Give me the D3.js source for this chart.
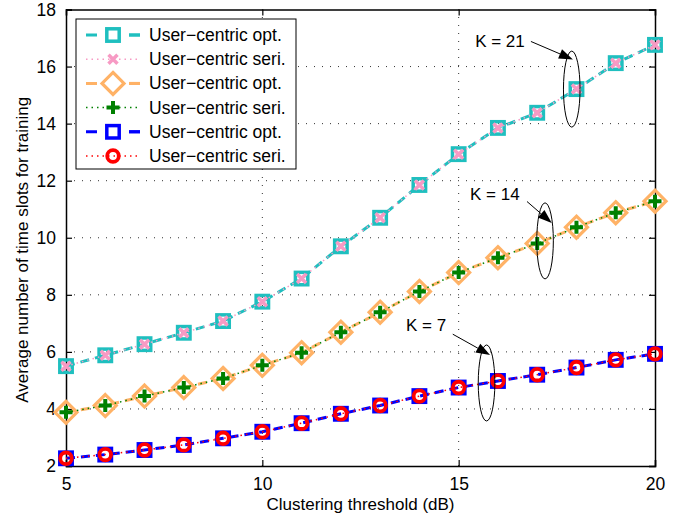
<!DOCTYPE html>
<html>
<head>
<meta charset="utf-8">
<script src="https://cdn.jsdelivr.net/npm/d3@7"></script>
<style>
  body { margin: 0; background: #fff; }
  text { font-family: "Liberation Sans", Arial, sans-serif; fill: #000; }
</style>
</head>
<body>
<script>
let thresholds = [5, 6, 7, 8, 9, 10, 11, 12, 13, 14, 15, 16, 17, 18, 19, 20]
let optK21 = [5.5, 5.88, 6.27, 6.67, 7.08, 7.76, 8.57, 9.7, 10.7, 11.85, 12.93, 13.85, 14.38, 15.21, 16.12, 16.76]
let seriK21 = [5.5, 5.88, 6.27, 6.67, 7.08, 7.76, 8.57, 9.7, 10.7, 11.85, 12.93, 13.85, 14.38, 15.21, 16.12, 16.76]
let optK14 = [3.88, 4.12, 4.45, 4.75, 5.07, 5.53, 5.97, 6.69, 7.39, 8.12, 8.78, 9.3, 9.8, 10.37, 10.88, 11.28]
let seriK14 = [3.88, 4.12, 4.45, 4.75, 5.07, 5.53, 5.97, 6.69, 7.39, 8.12, 8.78, 9.3, 9.8, 10.37, 10.88, 11.28]
let optK7 = [2.27, 2.4, 2.56, 2.74, 2.97, 3.2, 3.5, 3.83, 4.12, 4.45, 4.75, 4.98, 5.2, 5.45, 5.72, 5.93]
let seriK7 = [2.27, 2.4, 2.56, 2.74, 2.97, 3.2, 3.5, 3.83, 4.12, 4.45, 4.75, 4.98, 5.2, 5.45, 5.72, 5.93]
let xTicks = [5, 10, 15, 20]
let yTicks = [2, 4, 6, 8, 10, 12, 14, 16, 18]
let legendLabels = ['User\u2212centric opt.', 'User\u2212centric seri.', 'User\u2212centric opt.',
  'User\u2212centric seri.', 'User\u2212centric opt.', 'User\u2212centric seri.']
let kLabels = ['K = 21', 'K = 14', 'K = 7']

let series = [
  { values: optK21, color: '#1fbfbf', marker: 'square', dash: '9,6', width: 3 },
  { values: seriK21, color: '#f79ac4', marker: 'x', dash: '1.5,4', width: 1.5 },
  { values: optK14, color: '#ffb266', marker: 'diamond', dash: '9,6', width: 3 },
  { values: seriK14, color: '#008000', marker: 'plus', dash: '1.5,4', width: 1.5 },
  { values: optK7, color: '#0000ff', marker: 'square', dash: '9,6', width: 3 },
  { values: seriK7, color: '#ff0000', marker: 'circle', dash: '1.5,4', width: 1.5 }
]

// annotation anchors in data units: text, arrow start, arrow tip, ellipse centre
let notes = [
  { text: [15.42, 16.67], from: [16.84, 16.88], to: [17.91, 16.25], ell: [17.88, 15.21] },
  { text: [15.29, 11.33], from: [16.74, 11.27], to: [17.37, 10.52], ell: [17.2, 9.89] },
  { text: [13.66, 6.74], from: [14.85, 6.62], to: [15.8, 5.89], ell: [15.71, 4.91] }
]

let width = 682
let height = 517
let margin = { left: 66, right: 27, top: 9.5, bottom: 51 }

let xScale = d3.scaleLinear().domain([5, 20]).range([margin.left, width - margin.right])
let yScale = d3.scaleLinear().domain([2, 18]).range([height - margin.bottom, margin.top])

let svg = d3.select('body').append('svg').attr('width', width).attr('height', height)

// grid
let grid = svg.append('g').attr('stroke', '#333').attr('stroke-width', 1).attr('stroke-dasharray', '1,7')
grid.selectAll('.gx').data(xTicks.slice(1, -1)).enter().append('line')
  .attr('x1', d => xScale(d)).attr('x2', d => xScale(d))
  .attr('y1', yScale(2)).attr('y2', yScale(18))
grid.selectAll('.gy').data(yTicks.slice(1, -1)).enter().append('line')
  .attr('y1', d => yScale(d)).attr('y2', d => yScale(d))
  .attr('x1', xScale(5)).attr('x2', xScale(20))

// axes with inward ticks on all sides
let tickLen = 6
svg.append('g').attr('transform', `translate(0,${yScale(2)})`)
  .call(d3.axisBottom(xScale).tickValues(xTicks).tickSize(-tickLen).tickPadding(12).tickFormat(d3.format('d')))
svg.append('g').attr('transform', `translate(0,${yScale(18)})`)
  .call(d3.axisTop(xScale).tickValues(xTicks).tickSize(-tickLen).tickFormat(''))
svg.append('g').attr('transform', `translate(${xScale(5)},0)`)
  .call(d3.axisLeft(yScale).tickValues(yTicks).tickSize(-tickLen).tickPadding(10).tickFormat(d3.format('d')))
svg.append('g').attr('transform', `translate(${xScale(20)},0)`)
  .call(d3.axisRight(yScale).tickValues(yTicks).tickSize(-tickLen).tickFormat(''))
svg.selectAll('.domain').attr('stroke', '#000').attr('stroke-width', 1.5)
svg.selectAll('.tick line').attr('stroke', '#000').attr('stroke-width', 1.2)
svg.selectAll('.tick text').style('font-size', '17.5px').style('font-family', '"Liberation Sans", Arial, sans-serif')

svg.append('text')
  .attr('x', (xScale(5) + xScale(20)) / 2).attr('y', 510)
  .attr('text-anchor', 'middle').style('font-size', '17px')
  .text('Clustering threshold (dB)')
svg.append('text')
  .attr('transform', `translate(28,${(yScale(2) + yScale(18)) / 2 + 12}) rotate(-90)`)
  .attr('text-anchor', 'middle').style('font-size', '17px')
  .text('Average number of time slots for training')

function drawMarker(g, type, color) {
  if (type === 'square') {
    g.append('rect').attr('x', -6.2).attr('y', -6.2).attr('width', 12.4).attr('height', 12.4)
      .attr('fill', 'none').attr('stroke', color).attr('stroke-width', 3.5)
  } else if (type === 'x') {
    g.append('path').attr('d', 'M-4.5,-4.5L4.5,4.5M-4.5,4.5L4.5,-4.5')
      .attr('fill', 'none').attr('stroke', color).attr('stroke-width', 3.5)
  } else if (type === 'diamond') {
    g.append('path').attr('d', 'M0,-11L11,0L0,11L-11,0Z')
      .attr('fill', 'none').attr('stroke', color).attr('stroke-width', 3.2)
  } else if (type === 'plus') {
    g.append('path').attr('d', 'M-6.5,0H6.5M0,-6.5V6.5')
      .attr('fill', 'none').attr('stroke', color).attr('stroke-width', 4)
  } else if (type === 'circle') {
    g.append('circle').attr('r', 5.8)
      .attr('fill', 'none').attr('stroke', color).attr('stroke-width', 3.8)
  }
}

let line = d3.line()
  .x((d, i) => xScale(thresholds[i]))
  .y(d => yScale(d))

series.forEach(s => {
  svg.append('path')
    .attr('fill', 'none')
    .attr('stroke', s.color)
    .attr('stroke-width', s.width)
    .attr('stroke-dasharray', s.dash)
    .attr('d', line(s.values))
  svg.append('g').selectAll('g')
    .data(s.values)
    .enter()
    .append('g')
    .attr('transform', (d, i) => `translate(${xScale(thresholds[i])},${yScale(d)})`)
    .each(function () { drawMarker(d3.select(this), s.marker, s.color) })
})

// annotations
notes.forEach((n, i) => {
  svg.append('text')
    .attr('x', xScale(n.text[0])).attr('y', yScale(n.text[1]))
    .style('font-size', '17px')
    .text(kLabels[i])
  let x1 = xScale(n.from[0]), y1 = yScale(n.from[1])
  let x2 = xScale(n.to[0]), y2 = yScale(n.to[1])
  let ang = Math.atan2(y2 - y1, x2 - x1)
  let hl = 14, hw = 5
  let bx = x2 - hl * Math.cos(ang), by = y2 - hl * Math.sin(ang)
  svg.append('line')
    .attr('x1', x1).attr('y1', y1).attr('x2', bx).attr('y2', by)
    .attr('stroke', '#000').attr('stroke-width', 1)
  svg.append('path')
    .attr('d', `M${x2},${y2}L${bx + hw * Math.sin(ang)},${by - hw * Math.cos(ang)}L${bx - hw * Math.sin(ang)},${by + hw * Math.cos(ang)}Z`)
    .attr('fill', '#000')
  svg.append('ellipse')
    .attr('cx', xScale(n.ell[0])).attr('cy', yScale(n.ell[1]))
    .attr('rx', 8.3).attr('ry', 38)
    .attr('fill', 'none').attr('stroke', '#000').attr('stroke-width', 1)
})

// legend
let legend = svg.append('g').attr('transform', 'translate(76,19)')
legend.append('rect').attr('width', 220).attr('height', 150)
  .attr('fill', '#fff').attr('stroke', '#000').attr('stroke-width', 1)
series.forEach((s, i) => {
  let row = legend.append('g').attr('transform', `translate(0,${16 + i * 24.2})`)
  row.append('line').attr('x1', 10).attr('x2', 64)
    .attr('stroke', s.color).attr('stroke-width', s.width).attr('stroke-dasharray', s.width > 2 ? '11,32' : '1.5,4')
  if (s.width > 2) {
    row.append('line').attr('x1', 53).attr('x2', 64).attr('stroke', s.color).attr('stroke-width', s.width)
  }
  drawMarker(row.append('g').attr('transform', 'translate(37,0)'), s.marker, s.color)
  row.append('text').attr('x', 73).attr('y', 6).style('font-size', '17.5px').text(legendLabels[i])
})
</script>
</body>
</html>
